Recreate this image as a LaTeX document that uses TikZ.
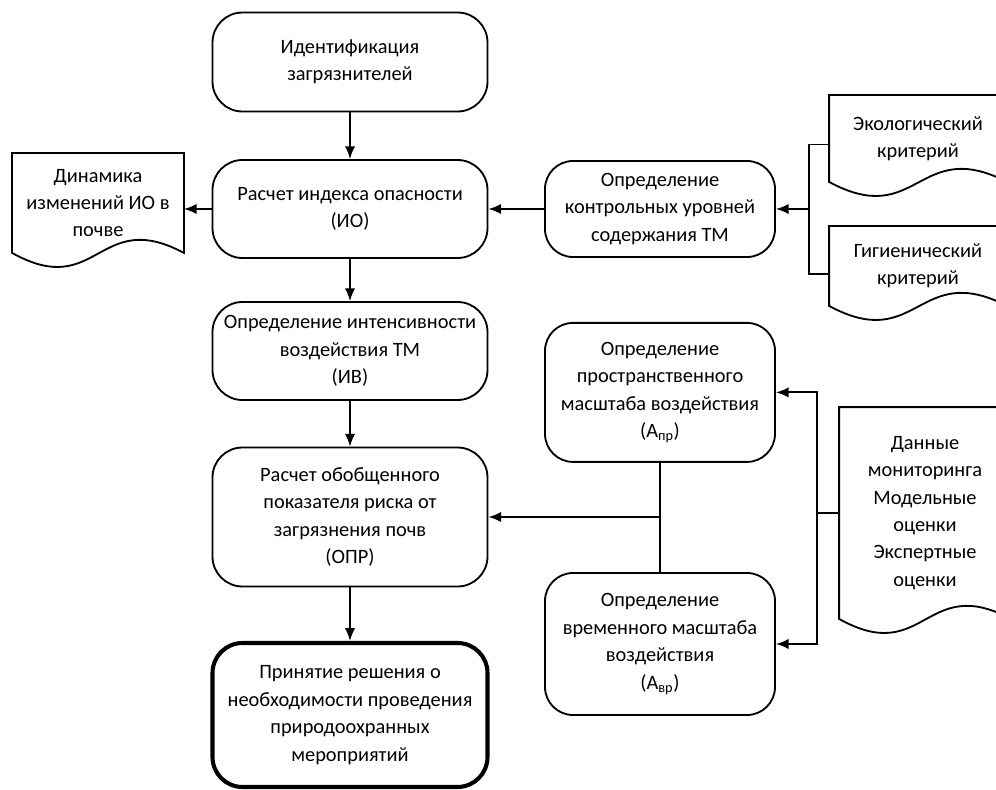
\documentclass[tikz,border=0pt]{standalone}
\usepackage{fontspec}
\setmainfont{Carlito}
\usetikzlibrary{arrows.meta, positioning, calc}

% outline of a document shape with a wavy bottom edge
\newcommand{\docoutline}[1]{%
  \draw (#1.north east) -- (#1.north west) -- (#1.south west)
    .. controls ($(#1.south)+(0,-1.2)$) and ($(#1.south)+(0,1.15)$) .. (#1.south east) -- cycle;}

\begin{document}
\begin{tikzpicture}[
  line width=1.3pt,
  font=\fontsize{14.5}{19.5}\selectfont,
  box/.style={draw, rounded corners=0.75cm, minimum width=6.875cm, align=center, inner sep=3pt},
  sidebox/.style={draw, rounded corners=0.7cm, minimum width=5.75cm, align=center, inner sep=3pt},
  doc/.style={align=center, inner sep=2pt},
  arr/.style={-{Latex[length=3.2mm,width=2.6mm]}}
]
\useasboundingbox (0,0) rectangle (24.9,-19.75);
\clip (0,0) rectangle (24.9,-19.75);

% main column
\node[box, minimum height=2.475cm] (ident) at (8.75,-1.55) {Идентификация\\загрязнителей};
\node[box, minimum height=2.45cm] (index) at (8.75,-5.225) {Расчет индекса опасности\\(ИО)};
\node[box, minimum height=2.45cm] (intens) at (8.75,-8.775) {Определение интенсивности\\воздействия ТМ\\(ИВ)};
\node[box, minimum height=3.475cm] (risk) at (8.75,-12.925) {Расчет обобщенного\\показателя риска от\\загрязнения почв\\(ОПР)};
\node[box, minimum height=3.6cm, line width=2.9pt] (decision) at (8.75,-17.875) {Принятие решения о\\необходимости проведения\\природоохранных\\мероприятий};

% right column
\node[sidebox, minimum height=2.4cm] (control) at (16.5,-5.225) {Определение\\контрольных уровней\\содержания ТМ};
\node[sidebox, minimum height=3.475cm] (spatial) at (16.5,-9.81) {Определение\\пространственного\\масштаба воздействия\\(А\textsubscript{пр})};
\node[sidebox, minimum height=3.55cm] (temporal) at (16.5,-16.1) {Определение\\временного масштаба\\воздействия\\(А\textsubscript{вр})};

% documents
\node[doc, minimum width=4.25cm, minimum height=2.45cm] (dynamics) at (2.45,-5.075) {Динамика\\изменений ИО в\\почве};
\node[doc, minimum width=4.4cm, minimum height=2.125cm] (ecocrit) at (22.95,-3.4625) {Экологический\\критерий};
\node[doc, minimum width=4.4cm, minimum height=1.95cm] (hygcrit) at (22.95,-6.65) {Гигиенический\\критерий};
\node[doc, minimum width=4.25cm, minimum height=5.25cm] (data) at (23.125,-12.825) {Данные\\мониторинга\\Модельные\\оценки\\Экспертные\\оценки};
\foreach \d in {dynamics, ecocrit, hygcrit, data} {\docoutline{\d}}

% connectors
\draw[arr] (ident) -- (index);
\draw[arr] (index) -- (intens);
\draw[arr] (intens) -- (risk);
\draw[arr] (risk) -- (decision);
\draw[arr] (index.west) -- (index.west -| dynamics.east);
\draw[arr] (control) -- (index);

\coordinate (critbus) at (20.225,-5.225);
\draw ([yshift=-0.15cm]ecocrit.west) -| (critbus) |- ([yshift=-0.2cm]hygcrit.west);
\draw[arr] (critbus) -- (control);

\coordinate (databus) at (20.425,-12.825);
\draw (data.west) -- (databus);
\draw[arr] (databus) |- (spatial.east);
\draw[arr] (databus) |- (temporal.east);

\draw (spatial) -- (temporal);
\coordinate (scalebus) at (spatial.south |- risk.east);
\draw[arr] (scalebus) -- (risk.east);
\end{tikzpicture}
\end{document}
